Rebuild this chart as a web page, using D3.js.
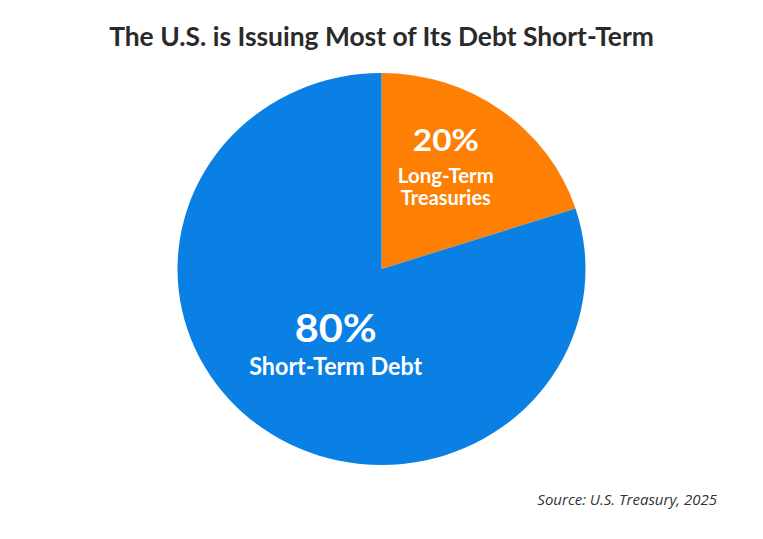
<!DOCTYPE html>
<html>
<head>
<meta charset="utf-8">
<script src="https://cdn.jsdelivr.net/npm/d3@7"></script>
<style>
  html, body { margin: 0; padding: 0; background: #ffffff; }
  svg { display: block; }
</style>
</head>
<body>
<svg id="chart" width="763" height="539"></svg>
<script>
// ---- data ----
const categories = ["Long-Term Treasuries", "Short-Term Debt"];
const values = [20, 80];
const pctLabels = ["20%", "80%"];
const nameLines = [["Long-Term", "Treasuries"], ["Short-Term Debt"]];
const title = "The U.S. is Issuing Most of Its Debt Short-Term";
const source = "Source: U.S. Treasury, 2025";

// ---- styles ----
const colors = ["#fd7f03", "#0b80e4"];
const cx = 381.5, cy = 269;
const R = 200, sx = 204 / 200, sy = 196 / 200;

const svg = d3.select("#chart");

svg.append("text")
  .attr("x", 381.5).attr("y", 46)
  .attr("text-anchor", "middle")
  .attr("font-family", "Lato, 'Open Sans', sans-serif")
  .attr("font-weight", 700)
  .attr("font-size", 26.4)
  .attr("fill", "#2a2a2a")
  .text(title);

const pie = d3.pie().value(d => d).sort(null);
const arcs = pie(values);
const arc = d3.arc().innerRadius(0).outerRadius(R);

const g = svg.append("g")
  .attr("transform", `translate(${cx},${cy}) scale(${sx},${sy})`);

g.selectAll("path")
  .data(arcs)
  .join("path")
  .attr("d", arc)
  .attr("fill", (d, i) => colors[i]);

// label styling (per slice)
const labelR = [120.7, 88];
const labelNudge = [[-8, -6], [7, 6]];
const pctStyle = [{ size: 31, len: 66, dy: -16 }, { size: 39, len: 82, dy: -2.5 }];
const nameStyle = [
  [{ size: 20, len: 96, dy: 16 }, { size: 20, len: 90, dy: 38 }],
  [{ size: 24, len: 173, dy: 30.5 }]
];

const labelLayer = svg.append("g");
arcs.forEach((d, i) => {
  const c = d3.arc().innerRadius(labelR[i]).outerRadius(labelR[i]).centroid(d);
  const x = cx + c[0] * sx + labelNudge[i][0];
  const y = cy + c[1] * sy + labelNudge[i][1];
  labelLayer.append("text")
    .attr("x", x).attr("y", y + pctStyle[i].dy)
    .attr("text-anchor", "middle")
    .attr("font-family", "Lato, sans-serif")
    .attr("font-weight", 700)
    .attr("font-size", pctStyle[i].size)
    .attr("textLength", pctStyle[i].len)
    .attr("lengthAdjust", "spacingAndGlyphs")
    .attr("fill", "#ffffff")
    .text(pctLabels[i]);
  nameLines[i].forEach((ln, j) => {
    const s = nameStyle[i][j];
    labelLayer.append("text")
      .attr("x", x).attr("y", y + s.dy)
      .attr("text-anchor", "middle")
      .attr("font-family", "Lato, sans-serif")
      .attr("font-weight", 700)
      .attr("font-size", s.size)
      .attr("textLength", s.len)
      .attr("lengthAdjust", "spacingAndGlyphs")
      .attr("fill", "#ffffff")
      .text(ln);
  });
});

svg.append("text")
  .attr("x", 717).attr("y", 505)
  .attr("text-anchor", "end")
  .attr("font-family", "'Open Sans', sans-serif")
  .attr("font-style", "italic")
  .attr("font-size", 15)
  .attr("fill", "#333333")
  .text(source);
</script>
</body>
</html>
